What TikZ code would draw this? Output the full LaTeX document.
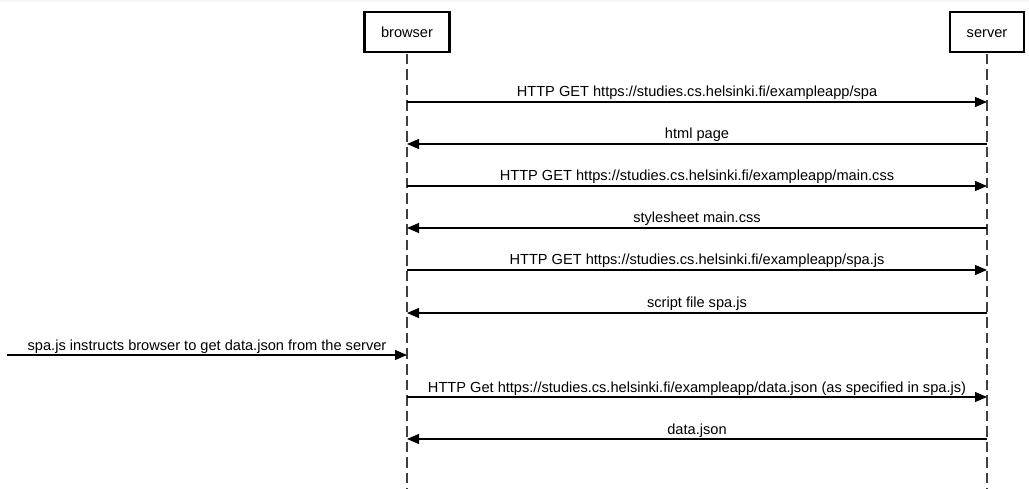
\documentclass[tikz,border=0pt]{standalone}
\usepackage{fontspec}
\setmainfont{Liberation Sans}
\usetikzlibrary{arrows.meta}
\begin{document}
\begin{tikzpicture}[x=1pt,y=-1pt,
  actor/.style={draw=black,line width=2.4pt,fill=white,minimum width=85pt,minimum height=40pt,inner sep=0pt,text height=13pt,text depth=2pt,font=\fontsize{14.6}{16}\selectfont},
  lifeline/.style={draw=black!75,line width=1.2pt,dash pattern=on 10.5pt off 5pt},
  msg/.style={draw=black,line width=1.1pt,-{Triangle[length=12pt,width=10pt]}},
  lbl/.style={anchor=base,inner sep=0pt,font=\fontsize{14.6}{16}\selectfont}]
\useasboundingbox (0,0) rectangle (1029,489);
\fill[black!4] (0,0) rectangle (1029,2.5);
\coordinate (bend) at (407,489);
\coordinate (send) at (987,489);
\draw[lifeline] (407,54) -- (bend);
\draw[lifeline] (987,54) -- (send);
\node[actor] (browser) at (407,32) {browser};
\node[actor,minimum width=74pt] (server) at (987,32) {server};
% message anchors
\foreach \n/\y in {1/102,2/144,3/186,4/228,5/270,6/313,7/355,8/397,9/439}{
  \coordinate (b\n) at (407,\y);
  \coordinate (s\n) at (987,\y);
}
\coordinate (ext) at (7,355);
\draw[msg] (b1) -- (s1);
\draw[msg] (s2) -- (b2);
\draw[msg] (b3) -- (s3);
\draw[msg] (s4) -- (b4);
\draw[msg] (b5) -- (s5);
\draw[msg] (s6) -- (b6);
\draw[msg] (ext) -- (b7);
\draw[msg] (b8) -- (s8);
\draw[msg] (s9) -- (b9);
\node[lbl] (l1) at (697,97) {HTTP GET https://studies.cs.helsinki.fi/exampleapp/spa};
\node[lbl] (l2) at (697,139) {html page};
\node[lbl] (l3) at (697,181) {HTTP GET https://studies.cs.helsinki.fi/exampleapp/main.css};
\node[lbl] (l4) at (697,223) {stylesheet main.css};
\node[lbl] (l5) at (697,265) {HTTP GET https://studies.cs.helsinki.fi/exampleapp/spa.js};
\node[lbl] (l6) at (697,308) {script file spa.js};
\node[lbl] (l7) at (207,350) {spa.js instructs browser to get data.json from the server};
\node[lbl] (l8) at (697,392) {HTTP Get https://studies.cs.helsinki.fi/exampleapp/data.json (as specified in spa.js)};
\node[lbl] (l9) at (697,434) {data.json};
\end{tikzpicture}
\end{document}
